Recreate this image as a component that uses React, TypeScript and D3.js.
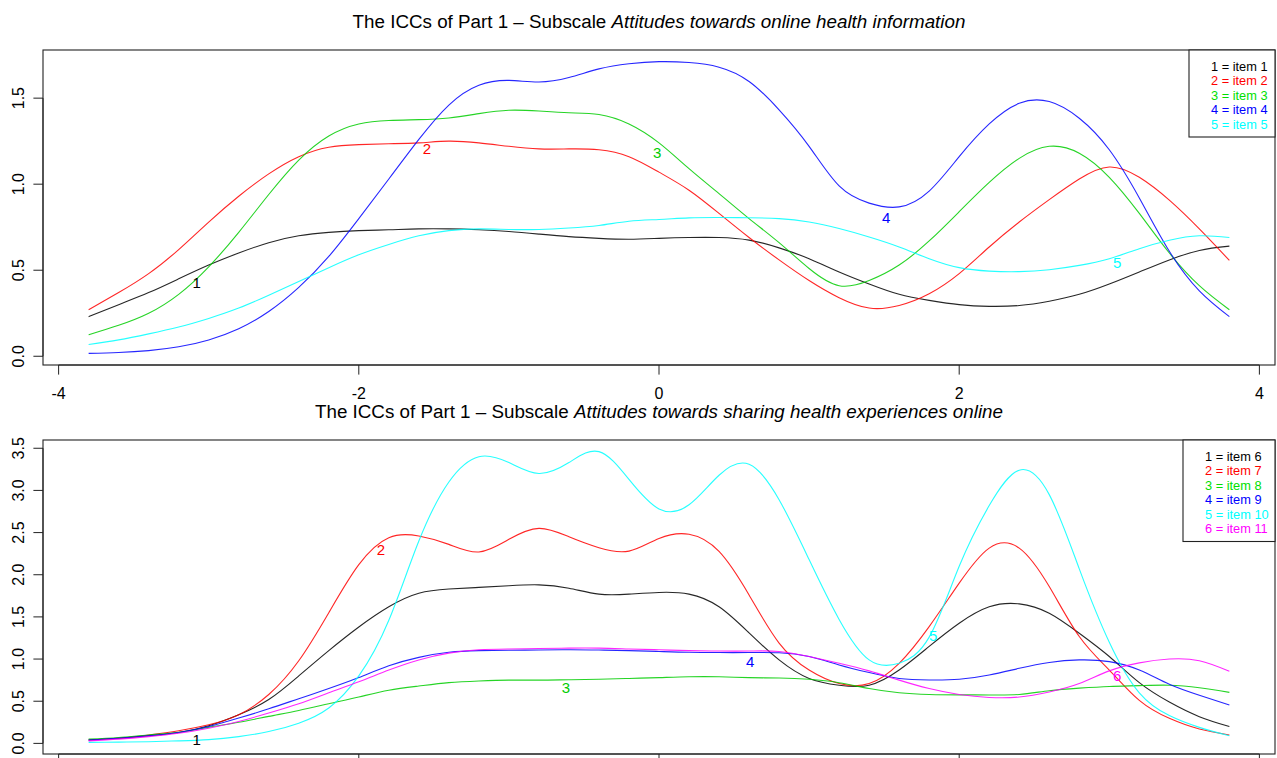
import React from "react";
import * as d3 from "d3";

// Ability grid (theta) on which every ICC is evaluated
const theta = [
  -3.8, -3.6, -3.4, -3.2, -3.0, -2.8, -2.6, -2.4, -2.2, -2.0, -1.8, -1.6, -1.4,
  -1.2, -1.0, -0.8, -0.6, -0.4, -0.2, 0.0, 0.2, 0.4, 0.6, 0.8, 1.0, 1.2, 1.4,
  1.6, 1.8, 2.0, 2.2, 2.4, 2.6, 2.8, 3.0, 3.2, 3.4, 3.6, 3.8,
];

const xTicks = [-4, -2, 0, 2, 4];
const yTicksInfo = [0, 0.5, 1.0, 1.5];
const yTicksShare = [0, 0.5, 1.0, 1.5, 2.0, 2.5, 3.0, 3.5];

// Subscale 1: attitudes towards online health information
const item1 = [0.23, 0.30, 0.37, 0.45, 0.53, 0.60, 0.66, 0.70, 0.72, 0.73, 0.735, 0.74, 0.74, 0.735, 0.725, 0.71, 0.695, 0.685, 0.68, 0.685, 0.69, 0.69, 0.675, 0.63, 0.567, 0.49, 0.42, 0.36, 0.325, 0.30, 0.29, 0.295, 0.32, 0.36, 0.42, 0.49, 0.56, 0.615, 0.64];
const item2 = [0.27, 0.37, 0.48, 0.62, 0.78, 0.93, 1.06, 1.16, 1.215, 1.23, 1.235, 1.24, 1.25, 1.24, 1.22, 1.205, 1.205, 1.20, 1.16, 1.07, 0.965, 0.83, 0.69, 0.56, 0.44, 0.34, 0.28, 0.295, 0.363, 0.48, 0.635, 0.78, 0.91, 1.03, 1.10, 1.04, 0.907, 0.74, 0.557];
const item3 = [0.125, 0.18, 0.25, 0.36, 0.52, 0.72, 0.94, 1.14, 1.28, 1.35, 1.37, 1.375, 1.385, 1.41, 1.43, 1.425, 1.415, 1.405, 1.35, 1.24, 1.09, 0.945, 0.80, 0.66, 0.51, 0.41, 0.44, 0.53, 0.67, 0.84, 1.01, 1.15, 1.22, 1.18, 1.04, 0.83, 0.60, 0.41, 0.27];
const item4 = [0.017, 0.022, 0.033, 0.055, 0.095, 0.16, 0.26, 0.40, 0.58, 0.80, 1.03, 1.26, 1.46, 1.575, 1.603, 1.594, 1.62, 1.67, 1.70, 1.712, 1.707, 1.68, 1.597, 1.432, 1.22, 0.99, 0.89, 0.868, 0.96, 1.16, 1.35, 1.47, 1.48, 1.383, 1.20, 0.92, 0.61, 0.38, 0.23];
const item5 = [0.068, 0.095, 0.13, 0.17, 0.22, 0.28, 0.355, 0.435, 0.515, 0.59, 0.65, 0.70, 0.73, 0.74, 0.737, 0.737, 0.745, 0.76, 0.785, 0.795, 0.804, 0.806, 0.805, 0.80, 0.78, 0.742, 0.693, 0.635, 0.567, 0.515, 0.495, 0.492, 0.503, 0.528, 0.567, 0.625, 0.674, 0.70, 0.69];

// Subscale 2: attitudes towards sharing health experiences online
const item6 = [0.04, 0.06, 0.09, 0.13, 0.21, 0.34, 0.52, 0.80, 1.10, 1.38, 1.62, 1.78, 1.83, 1.85, 1.87, 1.88, 1.84, 1.77, 1.77, 1.79, 1.77, 1.62, 1.31, 0.99, 0.77, 0.69, 0.69, 0.87, 1.15, 1.425, 1.62, 1.655, 1.544, 1.306, 1.03, 0.72, 0.49, 0.317, 0.2];
const item7 = [0.04, 0.06, 0.10, 0.15, 0.22, 0.34, 0.58, 0.98, 1.55, 2.12, 2.44, 2.46, 2.36, 2.27, 2.42, 2.55, 2.45, 2.32, 2.28, 2.43, 2.48, 2.276, 1.76, 1.19, 0.87, 0.71, 0.71, 0.95, 1.385, 1.90, 2.316, 2.316, 1.86, 1.267, 0.87, 0.51, 0.297, 0.17, 0.10];
const item8 = [0.05, 0.07, 0.10, 0.13, 0.19, 0.25, 0.32, 0.39, 0.47, 0.55, 0.63, 0.68, 0.72, 0.74, 0.75, 0.75, 0.755, 0.76, 0.77, 0.78, 0.79, 0.79, 0.78, 0.775, 0.76, 0.72, 0.65, 0.60, 0.58, 0.575, 0.574, 0.58, 0.625, 0.655, 0.675, 0.685, 0.69, 0.66, 0.605];
const item9 = [0.04, 0.06, 0.09, 0.13, 0.20, 0.30, 0.41, 0.53, 0.65, 0.78, 0.92, 1.02, 1.08, 1.10, 1.105, 1.107, 1.11, 1.107, 1.10, 1.09, 1.08, 1.077, 1.077, 1.075, 1.03, 0.93, 0.84, 0.77, 0.752, 0.76, 0.81, 0.89, 0.96, 0.99, 0.97, 0.87, 0.70, 0.57, 0.455];
const item10 = [0.012, 0.015, 0.02, 0.03, 0.045, 0.08, 0.14, 0.24, 0.42, 0.80, 1.46, 2.40, 3.10, 3.40, 3.33, 3.20, 3.33, 3.46, 3.13, 2.78, 2.83, 3.18, 3.31, 2.89, 2.18, 1.47, 0.99, 0.95, 1.26, 2.10, 2.82, 3.24, 2.95, 2.07, 1.20, 0.60, 0.33, 0.19, 0.09];
const item11 = [0.03, 0.05, 0.08, 0.12, 0.18, 0.26, 0.36, 0.47, 0.60, 0.73, 0.87, 0.99, 1.07, 1.11, 1.12, 1.125, 1.13, 1.13, 1.12, 1.11, 1.10, 1.095, 1.095, 1.09, 1.03, 0.95, 0.86, 0.75, 0.65, 0.58, 0.545, 0.55, 0.61, 0.71, 0.86, 0.955, 1.00, 0.98, 0.855];

// Curve number labels: [theta, value] where each number is written
const labelsInfo = [[-3.08, 0.43], [-1.547, 1.21], [-0.013, 1.187], [1.513, 0.808], [3.053, 0.546]];
const labelsShare = [[-3.08, 0.05], [-1.853, 2.296], [-0.62, 0.657], [0.607, 0.977], [1.827, 1.274], [3.053, 0.80]];

const itemNamesInfo = ["item 1", "item 2", "item 3", "item 4", "item 5"];
const itemNamesShare = ["item 6", "item 7", "item 8", "item 9", "item 10", "item 11"];

const palette = ["#000000", "#FF0000", "#00CD00", "#0000FF", "#00FFFF", "#FF00FF"];
const legendPalette = ["#000000", "#FF0000", "#00E000", "#0000FF", "#00FFFF", "#FF00FF"];

const FONT = "'Liberation Sans', Arial, Helvetica, sans-serif";

type PanelProps = {
  series: number[][];
  names: string[];
  labels: number[][];
  yTicks: number[];
  box: { x0: number; x1: number; y0: number; y1: number };
  titlePlain: string;
  titleItalic: string;
  titleY: number;
  legendLeft: number;
  showXLabels: boolean;
};

function pad4([lo, hi]: [number, number]): [number, number] {
  const p = (hi - lo) * 0.04;
  return [lo - p, hi + p];
}

function Panel(props: PanelProps) {
  const { series, names, labels, yTicks, box, titlePlain, titleItalic, titleY, legendLeft, showXLabels } = props;
  const x = d3.scaleLinear().domain(pad4(d3.extent(theta) as [number, number])).range([box.x0, box.x1]);
  const all = series.flat();
  const y = d3.scaleLinear().domain(pad4(d3.extent(all) as [number, number])).range([box.y1, box.y0]);
  const line = d3
    .line<number>()
    .x((_, i) => x(theta[i]))
    .y((d) => y(d))
    .curve(d3.curveNatural);

  const tickLen = 9.6;
  const rowH = 14.5;
  const legendH = 16 + rowH * (names.length - 1) + 13;
  const cx = (box.x0 + box.x1) / 2;

  return (
    <g>
      <text x={cx} y={titleY} textAnchor="middle" fontFamily={FONT} fontSize={18.8} fill="#000">
        {titlePlain}
        <tspan fontStyle="italic">{titleItalic}</tspan>
      </text>

      {series.map((vals, i) => (
        <path key={i} d={line(vals) || ""} fill="none" stroke={palette[i]} strokeWidth={1.1} strokeOpacity={0.85} />
      ))}

      {labels.map(([lx, ly], i) => (
        <text
          key={i}
          x={x(lx)}
          y={y(ly)}
          textAnchor="middle"
          dominantBaseline="central"
          fontFamily={FONT}
          fontSize={15}
          fill={palette[i]}
        >
          {i + 1}
        </text>
      ))}

      <rect x={box.x0} y={box.y0} width={box.x1 - box.x0} height={box.y1 - box.y0} fill="none" stroke="#222" strokeWidth={1.1} />

      {/* x axis */}
      <line x1={x(xTicks[0])} x2={x(xTicks[xTicks.length - 1])} y1={box.y1} y2={box.y1} stroke="#222" />
      {xTicks.map((t) => (
        <g key={t}>
          <line x1={x(t)} x2={x(t)} y1={box.y1} y2={box.y1 + tickLen} stroke="#222" />
          {showXLabels && (
            <text x={x(t)} y={box.y1 + 34} textAnchor="middle" fontFamily={FONT} fontSize={16} fill="#000">
              {t}
            </text>
          )}
        </g>
      ))}

      {/* y axis */}
      <line x1={box.x0} x2={box.x0} y1={y(yTicks[0])} y2={y(yTicks[yTicks.length - 1])} stroke="#222" />
      {yTicks.map((t) => (
        <g key={t}>
          <line x1={box.x0 - tickLen} x2={box.x0} y1={y(t)} y2={y(t)} stroke="#222" />
          <text
            transform={`translate(${box.x0 - 19} ${y(t)}) rotate(-90)`}
            textAnchor="middle"
            fontFamily={FONT}
            fontSize={16}
            fill="#000"
          >
            {t.toFixed(1)}
          </text>
        </g>
      ))}

      {/* legend */}
      <rect x={legendLeft} y={box.y0} width={box.x1 - legendLeft} height={legendH} fill="#fff" stroke="#222" strokeWidth={1.1} />
      {names.map((n, i) => (
        <text
          key={n}
          x={legendLeft + 22}
          y={box.y0 + 16 + i * rowH}
          dominantBaseline="central"
          fontFamily={FONT}
          fontSize={12.8}
          fill={legendPalette[i]}
        >
          {`${i + 1} = ${n}`}
        </text>
      ))}
    </g>
  );
}

export default function App() {
  const W = 1277;
  const H = 758;
  return (
    <svg width={W} height={H} style={{ position: "absolute", left: 0, top: 0, background: "#fff" }}>
      <rect width={W} height={H} fill="#fff" />
      <Panel
        series={[item1, item2, item3, item4, item5]}
        names={itemNamesInfo}
        labels={labelsInfo}
        yTicks={yTicksInfo}
        box={{ x0: 43, x1: 1275, y0: 50, y1: 365 }}
        titlePlain={"The ICCs of Part 1 \u2013 Subscale "}
        titleItalic="Attitudes towards online health information"
        titleY={28}
        legendLeft={1189}
        showXLabels={true}
      />
      <Panel
        series={[item6, item7, item8, item9, item10, item11]}
        names={itemNamesShare}
        labels={labelsShare}
        yTicks={yTicksShare}
        box={{ x0: 43, x1: 1275, y0: 440, y1: 754 }}
        titlePlain={"The ICCs of Part 1 \u2013 Subscale "}
        titleItalic="Attitudes towards sharing health experiences online"
        titleY={418}
        legendLeft={1183}
        showXLabels={false}
      />
    </svg>
  );
}
